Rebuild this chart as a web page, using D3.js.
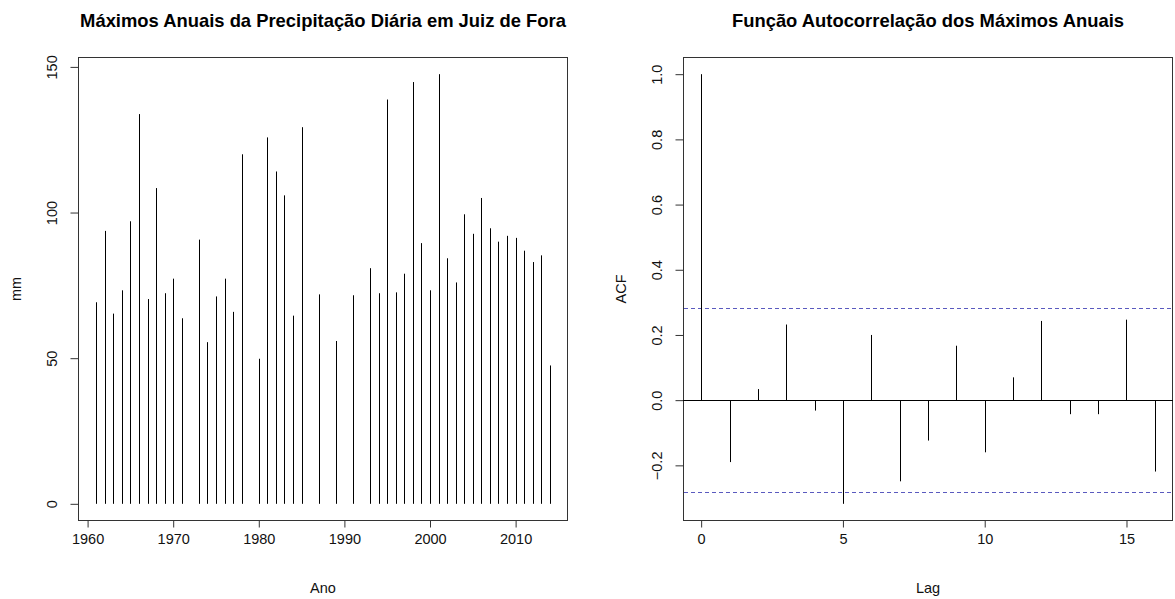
<!DOCTYPE html>
<html>
<head>
<meta charset="utf-8">
<script src="https://cdn.jsdelivr.net/npm/d3@7"></script>
<style>
  html, body { margin: 0; padding: 0; background: #fff; }
  svg { display: block; font-family: "Liberation Sans", Arial, sans-serif; }
</style>
</head>
<body>
<svg id="chart" width="1175" height="599"></svg>
<script>
// Annual maxima of daily rainfall, Juiz de Fora (mm)
const years = [1961, 1962, 1963, 1964, 1965, 1966, 1967, 1968, 1969, 1970, 1971,
  1973, 1974, 1975, 1976, 1977, 1978, 1980, 1981, 1982, 1983, 1984, 1985,
  1987, 1989, 1991, 1993, 1994, 1995, 1996, 1997, 1998, 1999, 2000, 2001,
  2002, 2003, 2004, 2005, 2006, 2007, 2008, 2009, 2010, 2011, 2012, 2013, 2014];
const maxima = [69.2, 93.7, 65.3, 73.3, 97.0, 133.8, 70.3, 108.4, 72.3, 77.3, 63.7,
  90.7, 55.5, 71.2, 77.3, 65.9, 120.0, 49.8, 125.8, 114.1, 105.9, 64.6, 129.3,
  71.9, 55.9, 71.6, 80.9, 72.3, 138.8, 72.6, 79.0, 144.8, 89.5, 73.3, 147.5,
  84.3, 76.0, 99.4, 92.7, 105.0, 94.6, 90.0, 92.0, 91.3, 86.9, 83.0, 85.3, 47.5];
const yearTicks = [1960, 1970, 1980, 1990, 2000, 2010];
const mmTicks = [0, 50, 100, 150];

// Sample autocorrelation by lag and its 95% band
const lags = [0, 1, 2, 3, 4, 5, 6, 7, 8, 9, 10, 11, 12, 13, 14, 15, 16];
const acfValues = [1.0, -0.190, 0.034, 0.232, -0.032, -0.318, 0.200, -0.249, -0.124,
  0.167, -0.160, 0.070, 0.243, -0.043, -0.043, 0.247, -0.219];
const confLimit = 0.283;
const lagTicks = [0, 5, 10, 15];
const acfTicks = [-0.2, 0.0, 0.2, 0.4, 0.6, 0.8, 1.0];

const svg = d3.select("#chart");
const FONT = 14.5;
const TITLE_FONT = 18.4;
const INK = "#000";
const FRAME = "#333";

// pad an extent by 4% on each side
function padded(ext) {
  const d = (ext[1] - ext[0]) * 0.04;
  return [ext[0] - d, ext[1] + d];
}

function panel(opts) {
  const { left, right, top, bottom } = opts.box;
  const g = svg.append("g");
  const x = d3.scaleLinear().domain(opts.xDomain).range([left, right]);
  const y = d3.scaleLinear().domain(opts.yDomain).range([bottom, top]);

  // frame
  g.append("rect")
    .attr("x", left + 0.5).attr("y", top + 0.5)
    .attr("width", right - left - 1).attr("height", bottom - top - 1)
    .attr("fill", "none").attr("stroke", FRAME).attr("stroke-width", 1);

  // bottom axis
  const xa = g.append("g").attr("transform", `translate(0,${bottom - 0.5})`)
    .call(d3.axisBottom(x).tickValues(opts.xTicks).tickSize(7).tickPadding(6)
      .tickFormat(opts.xFormat || d3.format("d")));
  xa.select(".domain").attr("d", `M${x(opts.xTicks[0])},0H${x(opts.xTicks[opts.xTicks.length - 1])}`)
    .attr("stroke", FRAME);
  xa.selectAll(".tick line").attr("stroke", FRAME);
  xa.selectAll(".tick text").attr("font-size", FONT).attr("fill", "#111")
    .attr("font-family", "Liberation Sans, Arial, sans-serif");

  // left axis with rotated labels
  const ya = g.append("g").attr("transform", `translate(${left + 0.5},0)`)
    .call(d3.axisLeft(y).tickValues(opts.yTicks).tickSize(8).tickFormat(opts.yFormat));
  ya.select(".domain").attr("d", `M0,${y(opts.yTicks[0])}V${y(opts.yTicks[opts.yTicks.length - 1])}`)
    .attr("stroke", FRAME);
  ya.selectAll(".tick line").attr("stroke", FRAME);
  ya.selectAll(".tick text")
    .attr("x", null).attr("dy", null)
    .attr("text-anchor", "middle")
    .attr("font-size", FONT).attr("fill", "#111")
    .attr("font-family", "Liberation Sans, Arial, sans-serif")
    .attr("transform", "translate(-22,0) rotate(-90)");

  // title and axis labels
  g.append("text").attr("x", (left + right) / 2).attr("y", 27)
    .attr("text-anchor", "middle").attr("font-weight", "bold")
    .attr("font-size", TITLE_FONT).attr("fill", "#000").text(opts.title);
  g.append("text").attr("x", (left + right) / 2).attr("y", bottom + 72)
    .attr("text-anchor", "middle").attr("font-size", FONT).attr("fill", "#111")
    .text(opts.xLabel);
  g.append("text")
    .attr("transform", `translate(${left - 57},${(top + bottom) / 2}) rotate(-90)`)
    .attr("text-anchor", "middle").attr("font-size", FONT).attr("fill", "#111")
    .text(opts.yLabel);

  return { g, x, y };
}

// Left: annual maxima as vertical spikes
{
  const p = panel({
    box: { left: 78, right: 568, top: 57, bottom: 521 },
    xDomain: padded(d3.extent(years)),
    yDomain: padded([0, d3.max(maxima)]),
    xTicks: yearTicks, yTicks: mmTicks,
    yFormat: d3.format("d"),
    title: "Máximos Anuais da Precipitação Diária em Juiz de Fora",
    xLabel: "Ano", yLabel: "mm"
  });
  p.g.append("g").selectAll("line").data(years).join("line")
    .attr("x1", (d) => Math.round(p.x(d)) + 0.5).attr("x2", (d) => Math.round(p.x(d)) + 0.5)
    .attr("y1", p.y(0)).attr("y2", (d, i) => p.y(maxima[i]))
    .attr("stroke", INK).attr("stroke-width", 1);
}

// Right: autocorrelation function
{
  const yExt = d3.extent(acfValues.concat([confLimit, -confLimit]));
  const p = panel({
    box: { left: 683, right: 1173, top: 57, bottom: 521 },
    xDomain: padded(d3.extent(lags)),
    yDomain: padded(yExt),
    xTicks: lagTicks, yTicks: acfTicks,
    yFormat: d3.format(".1f"),
    title: "Função Autocorrelação dos Máximos Anuais",
    xLabel: "Lag", yLabel: "ACF"
  });
  const [x0, x1] = p.x.range();
  // zero line
  p.g.append("line").attr("x1", x0).attr("x2", x1)
    .attr("y1", Math.round(p.y(0)) + 0.5).attr("y2", Math.round(p.y(0)) + 0.5)
    .attr("stroke", INK).attr("stroke-width", 1);
  // significance band
  p.g.append("g").selectAll("line").data([confLimit, -confLimit]).join("line")
    .attr("x1", x0 + 1).attr("x2", x1 - 1)
    .attr("y1", (d) => Math.round(p.y(d)) + 0.5).attr("y2", (d) => Math.round(p.y(d)) + 0.5)
    .attr("stroke", "#5a5abf").attr("stroke-width", 1).attr("stroke-dasharray", "4,3");
  // spikes
  p.g.append("g").selectAll("line").data(lags).join("line")
    .attr("x1", (d) => Math.round(p.x(d)) + 0.5).attr("x2", (d) => Math.round(p.x(d)) + 0.5)
    .attr("y1", p.y(0)).attr("y2", (d, i) => p.y(acfValues[i]))
    .attr("stroke", INK).attr("stroke-width", 1);
}
</script>
</body>
</html>
